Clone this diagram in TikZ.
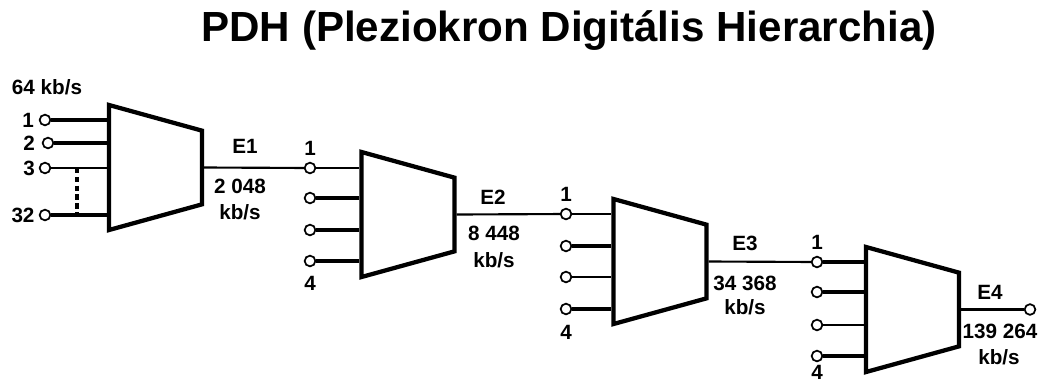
\documentclass[tikz,border=0pt]{standalone}
\usepackage{fontspec}
\setmainfont{Liberation Sans}
\usepackage{xcolor}
\usetikzlibrary{positioning,calc,shapes.geometric}

\begin{document}
\begin{tikzpicture}[x=0.75pt, y=-0.75pt,
  mux/.style={draw, line width=3.2pt, trapezium, trapezium stretches=true, trapezium angle=70.8,
    shape border rotate=270, inner sep=1pt, minimum width=93.75pt, minimum height=69.75pt},
  port/.style={draw, circle, line width=1.3pt, fill=white, inner sep=0pt, minimum size=8pt},
  wire/.style={line width=2.5pt},
  thinwire/.style={line width=1.6pt},
  lab/.style={font=\fontsize{15.5}{18}\selectfont\bfseries, inner sep=0pt}]
  \useasboundingbox (0,0) rectangle (1041,383);
  \node[font=\fontsize{31.6}{36}\selectfont\bfseries, inner sep=0pt] (title) at (569,31) {PDH (Pleziokron Digitális Hierarchia)};
  % multiplexers
  \node[mux] (m1) at (155.5,167.5) {};
  \node[mux] (m2) at (408,214.5) {};
  \node[mux] (m3) at (660,261.5) {};
  \node[mux] (m4) at (912.5,309.5) {};
  % first stage
  \node[port] (a1) at (45,120) {};
  \node[port] (a2) at (48,143) {};
  \node[port] (a3) at (45,168) {};
  \node[port] (a4) at (45,215) {};
  \draw[wire] (a1) -- (a1 -| m1.west);
  \draw[wire] (a2) -- (a2 -| m1.west);
  \draw[thinwire] (a3) -- (a3 -| m1.west);
  \draw[wire] (a4) -- (a4 -| m1.west);
  \coordinate (d3) at (77,168);
  \coordinate (d4) at (77,215);
  \draw[wire, dash pattern=on 4pt off 2.6pt] (d3) -- (d4);
  \node[lab] (rate) at (47,87) {64 kb/s};
  \node[lab] (la1) at (28,120) {1};
  \node[lab] (la2) at (29,143) {2};
  \node[lab] (la3) at (29,168) {3};
  \node[lab] (la4) at (23,215) {32};
  % second stage
  \node[port] (b1) at (310,168) {};
  \node[port] (b2) at (310,198) {};
  \node[port] (b3) at (310,230) {};
  \node[port] (b4) at (310,261) {};
  \draw[thinwire] (m1.east) -- (b1);
  \draw[thinwire] (b1) -- (b1 -| m2.west);
  \draw[wire] (b2) -- (b2 -| m2.west);
  \draw[wire] (b3) -- (b3 -| m2.west);
  \draw[wire] (b4) -- (b4 -| m2.west);
  \node[lab] (e1) at (245,146) {E1};
  \node[lab] (r1) at (240,186) {2 048};
  \node[lab] (u1) at (240,212) {kb/s};
  \node[lab] (lb1) at (310,148) {1};
  \node[lab] (lb4) at (310,283) {4};
  % third stage
  \node[port] (c1) at (566,214) {};
  \node[port] (c2) at (566,246) {};
  \node[port] (c3) at (566,277) {};
  \node[port] (c4) at (566,309) {};
  \draw[thinwire] (m2.east) -- (c1);
  \draw[thinwire] (c1) -- (c1 -| m3.west);
  \draw[wire] (c2) -- (c2 -| m3.west);
  \draw[thinwire] (c3) -- (c3 -| m3.west);
  \draw[wire] (c4) -- (c4 -| m3.west);
  \node[lab] (e2) at (493,197) {E2};
  \node[lab] (r2) at (494,233) {8 448};
  \node[lab] (u2) at (494,260) {kb/s};
  \node[lab] (lc1) at (566,194) {1};
  \node[lab] (lc4) at (566,332) {4};
  % last stage
  \node[port] (d1) at (817,262) {};
  \node[port] (d2) at (817,292) {};
  \node[port] (d3p) at (817,325) {};
  \node[port] (d4p) at (817,356) {};
  \node[port] (out) at (1030,309.5) {};
  \draw[thinwire] (m3.east) -- (d1);
  \draw[wire] (d1) -- (d1 -| m4.west);
  \draw[wire] (d2) -- (d2 -| m4.west);
  \draw[line width=0.8pt] (d3p) -- (d3p -| m4.west);
  \draw[wire] (d4p) -- (d4p -| m4.west);
  \draw[thinwire] (m4.east) -- (out);
  \node[lab] (e3) at (745,243) {E3};
  \node[lab] (r3) at (745,283) {34 368};
  \node[lab] (u3) at (745,307) {kb/s};
  \node[lab] (ld1) at (817,242) {1};
  \node[lab] (ld4) at (817,372) {4};
  \node[lab] (e4) at (990,292) {E4};
  \node[lab] (r4) at (1000,331) {139 264};
  \node[lab] (u4) at (999,357) {kb/s};
\end{tikzpicture}
\end{document}
